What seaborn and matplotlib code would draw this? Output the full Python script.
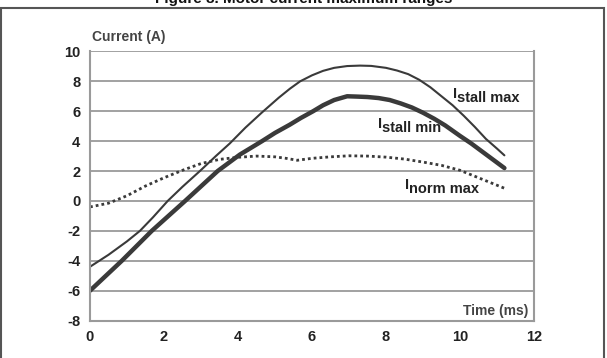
import numpy as np
import pandas as pd
import seaborn as sns
import matplotlib.pyplot as plt
from matplotlib.patches import Rectangle
from matplotlib.transforms import offset_copy

# time axis (ms) and currents (A)
t_stall_max = [0, 0.5, 1.0, 1.35, 1.7, 2.1, 2.5, 2.97, 3.4, 3.78, 4.2, 4.64, 5.1, 5.4, 5.68,
               6.0, 6.3, 6.6, 6.95, 7.3, 7.6, 8.0, 8.3, 8.6, 8.9, 9.2, 9.5, 9.8, 10.1,
               10.4, 10.7, 11.0, 11.2]
i_stall_max = [-4.4, -3.6, -2.7, -2.0, -1.1, 0.0, 0.95, 2.0, 3.0, 3.85, 4.9, 5.9, 6.9, 7.5, 8.0,
               8.4, 8.7, 8.9, 9.02, 9.05, 9.03, 8.9, 8.72, 8.48, 8.1, 7.6, 7.0, 6.4, 5.7,
               4.95, 4.15, 3.5, 3.05]

t_stall_min = [0, 0.86, 1.67, 2.57, 3.45, 4.05, 4.65, 5.0, 5.4, 5.7, 6.03, 6.3, 6.6, 6.95,
               7.2, 7.5, 7.8, 8.1, 8.4, 8.7, 9.0, 9.3, 9.6, 10.0, 10.3, 10.6, 10.9, 11.2]
i_stall_min = [-6.0, -4.0, -2.0, 0.0, 2.0, 3.1, 4.0, 4.55, 5.1, 5.55, 6.0, 6.4, 6.75, 7.0,
               6.98, 6.95, 6.88, 6.75, 6.52, 6.25, 5.9, 5.5, 5.05, 4.35, 3.85, 3.3, 2.75, 2.2]

t_norm_max = [0, 0.5, 1.0, 1.5, 2.0, 2.5, 3.0, 3.5, 4.0, 4.5, 5.0, 5.3, 5.6, 6.0, 6.5, 7.0,
              7.5, 8.0, 8.5, 9.0, 9.5, 10.0, 10.5, 11.2]
i_norm_max = [-0.4, -0.15, 0.35, 1.0, 1.55, 2.05, 2.5, 2.78, 2.92, 3.0, 2.95, 2.85, 2.72, 2.85,
              2.95, 3.02, 3.0, 2.93, 2.8, 2.6, 2.38, 2.05, 1.55, 0.85]

x_ticks = [0, 2, 4, 6, 8, 10, 12]
y_ticks = [-8, -6, -4, -2, 0, 2, 4, 6, 8, 10]

sns.set_style("white")
plt.rcParams['font.family'] = ['Liberation Sans', 'DejaVu Sans']
plt.rcParams['axes.unicode_minus'] = False

fig = plt.figure(figsize=(6.07, 3.58), dpi=100)
ax = fig.add_axes([90 / 607, 1 - 320.6 / 358, 444 / 607, 269.2 / 358])

df_max = pd.DataFrame({"t": t_stall_max, "i": i_stall_max})
df_min = pd.DataFrame({"t": t_stall_min, "i": i_stall_min})
df_norm = pd.DataFrame({"t": t_norm_max, "i": i_norm_max})

line_col = "#3a3a3a"
sns.lineplot(data=df_max, x="t", y="i", ax=ax, color=line_col, lw=1.5, sort=False)
sns.lineplot(data=df_min, x="t", y="i", ax=ax, color=line_col, lw=3.2, sort=False)
sns.lineplot(data=df_norm, x="t", y="i", ax=ax, color=line_col, lw=2.0,
             linestyle=(0, (1, 1.1)), sort=False)

ax.set_xlim(0, 12)
ax.set_ylim(-8, 10)
ax.set_xticks(x_ticks)
ax.set_yticks(y_ticks)
ax.set_xlabel("")
ax.set_ylabel("")
ax.yaxis.grid(True, color="#9a9a9a", lw=1.3)
ax.xaxis.grid(False)
for side in ["left", "bottom", "right"]:
    ax.spines[side].set_color("#9a9a9a")
    ax.spines[side].set_linewidth(1.5)
ax.spines["top"].set_visible(False)
ax.tick_params(axis="both", direction="out", length=4, width=1, color="#9a9a9a",
               labelsize=10.5, labelcolor="#222222", pad=3)
for lab in ax.get_xticklabels() + ax.get_yticklabels():
    lab.set_fontweight("bold")

# axis titles
fig.text(92 / 607, 1 - 37 / 358, "Current (A)", fontsize=10, color="#444444",
         fontweight="bold", ha="left", va="center")
ax.text(11.85, -7.6, "Time (ms)", fontsize=10, color="#444444", fontweight="bold",
        ha="right", va="baseline")

# series labels: "I" raised, name on the baseline
def series_label(x, y, name):
    ax.text(x, y, "I", fontsize=10.5, color="#222222", fontweight="bold", va="baseline",
            transform=offset_copy(ax.transData, fig=fig, x=0, y=4, units="dots"))
    ax.text(x, y, name, fontsize=10.5, color="#222222", fontweight="bold", va="baseline",
            transform=offset_copy(ax.transData, fig=fig, x=4, y=0, units="dots"))

series_label(9.81, 6.62, "stall max")
series_label(7.78, 4.62, "stall min")
series_label(8.51, 0.54, "norm max")

# outer frame and clipped figure title
fig.patches.append(Rectangle((1 / 607, -0.05), 603 / 607, 1.05 - 8.5 / 358,
                             transform=fig.transFigure, fill=False,
                             edgecolor="#555555", lw=1.5))
fig.text(0.5, 1 - 2.5 / 358, "Figure 8. Motor current maximum ranges", fontsize=11,
         fontweight="bold", ha="center", va="baseline", color="#111111")

fig.savefig("out.png", dpi=100)
